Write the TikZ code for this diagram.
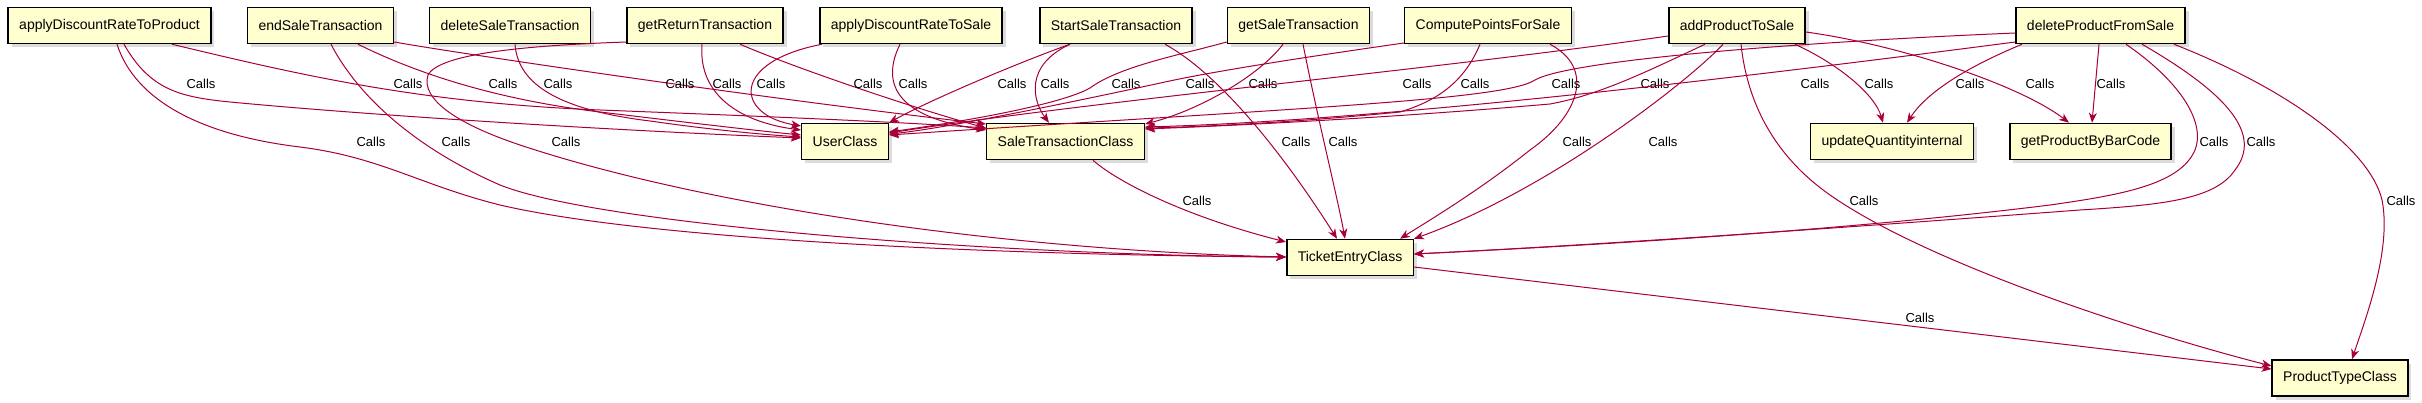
\documentclass[tikz,border=0pt]{standalone}
\usepackage{fontspec}
\setmainfont{Liberation Sans}
\usetikzlibrary{arrows.meta,shadows}
\definecolor{umlfill}{RGB}{254,254,206}
\definecolor{umlred}{RGB}{168,0,54}

\begin{document}
\begin{tikzpicture}[x=1pt, y=-1pt,
    cls/.style={rectangle, draw=black, line width=1.5pt, fill=umlfill, minimum height=36pt, inner xsep=11pt, inner ysep=2pt, font=\fontsize{14}{16}\selectfont, drop shadow={shadow xshift=3.5pt, shadow yshift=-3.5pt, fill=black!45, opacity=0.3}},
    calls/.style={draw=umlred, line width=1pt, -{Stealth[length=10pt, width=8pt, inset=3pt]}},
    lbl/.style={font=\fontsize{13}{15}\selectfont, inner sep=0pt}]
    \path[use as bounding box, fill=white] (0,0) rectangle (2422,403);

    %Top row
    \node at (109.5,25.5) [cls] (adrp) {applyDiscountRateToProduct};
    \node at (320.5,25.5) [cls] (est) {endSaleTransaction};
    \node at (510,25.5) [cls] (dst) {deleteSaleTransaction};
    \node at (705,25.5) [cls] (grt) {getReturnTransaction};
    \node at (911,25.5) [cls] (adrs) {applyDiscountRateToSale};
    \node at (1116,25.5) [cls] (sst) {StartSaleTransaction};
    \node at (1298.5,25.5) [cls] (gst) {getSaleTransaction};
    \node at (1488,25.5) [cls] (cps) {ComputePointsForSale};
    \node at (1737,25.5) [cls] (aps) {addProductToSale};
    \node at (2100.5,25.5) [cls] (dps) {deleteProductFromSale};

    %Classes
    \node at (845,141.5) [cls] (usr) {UserClass};
    \node at (1065.5,141.5) [cls] (stc) {SaleTransactionClass};
    \node at (1892,141.5) [cls] (uqi) {updateQuantityinternal};
    \node at (2090.5,141.5) [cls] (gpb) {getProductByBarCode};
    \node at (1350,257.5) [cls] (tec) {TicketEntryClass};
    \node at (2340,378) [cls] (ptc) {ProductTypeClass};

    %applyDiscountRateToProduct
    \draw[calls] (124,0 |- adrp.south) .. controls (150,90) and (180,97) .. (230,102) .. controls (400,118) and (650,132) .. (usr.west |- 0,138) node[lbl, at={(201,84)}] {Calls};
    \draw[calls] (172,0 |- adrp.south) .. controls (300,75) and (420,103) .. (600,110) .. controls (780,117) and (900,122) .. (stc.west |- 0,128) node[lbl, at={(408,84)}] {Calls};
    \draw[calls] (117,0 |- adrp.south) .. controls (135,100) and (200,135) .. (300,147) .. controls (380,157) and (420,185) .. (500,205) .. controls (650,240) and (1000,255) .. (tec.west |- 0,257) node[lbl, at={(371,142)}] {Calls};

    %endSaleTransaction
    \draw[calls] (358,0 |- est.south) .. controls (420,75) and (500,100) .. (600,112) .. controls (700,124) and (760,131) .. (usr.west |- 0,135) node[lbl, at={(503,84)}] {Calls};
    \draw[calls] (est.east |- 0,42) .. controls (450,52) and (750,97) .. (stc.west |- 0,124) node[lbl, at={(680,84)}] {Calls};
    \draw[calls] (331,0 |- est.south) .. controls (360,100) and (420,150) .. (500,185) .. controls (600,225) and (1000,255) .. (tec.west |- 0,257) node[lbl, at={(456,142)}] {Calls};

    %deleteSaleTransaction
    \draw[calls] (515,0 |- dst.south) .. controls (518,85) and (560,110) .. (650,121) .. controls (720,131) and (770,135) .. (usr.west |- 0,137) node[lbl, at={(558,84)}] {Calls};

    %getReturnTransaction
    \draw[calls] (grt.west |- 0,42) .. controls (540,45) and (440,52) .. (428,75) .. controls (420,100) and (460,125) .. (520,145) .. controls (700,205) and (1000,250) .. (tec.west |- 0,257) node[lbl, at={(566,142)}] {Calls};
    \draw[calls] (702,0 |- grt.south) .. controls (698,95) and (740,122) .. (usr.west |- 0,130) node[lbl, at={(727,84)}] {Calls};
    \draw[calls] (740,0 |- grt.south) .. controls (800,70) and (920,110) .. (stc.west |- 0,128) node[lbl, at={(868,84)}] {Calls};

    %applyDiscountRateToSale
    \draw[calls] (822,0 |- adrs.south) .. controls (730,62) and (735,115) .. (usr.west |- 0,126) node[lbl, at={(771,84)}] {Calls};
    \draw[calls] (900,0 |- adrs.south) .. controls (875,95) and (915,120) .. (stc.west |- 0,130) node[lbl, at={(913,84)}] {Calls};

    %StartSaleTransaction
    \draw[calls] (1070,0 |- sst.south) .. controls (1020,62) and (930,100) .. (usr.north east) node[lbl, at={(1012,84)}] {Calls};
    \draw[calls] (1070,0 |- sst.south) .. controls (1025,65) and (1032,100) .. (1049,0 |- stc.north) node[lbl, at={(1055,84)}] {Calls};
    \draw[calls] (1165,0 |- sst.south) .. controls (1230,80) and (1300,180) .. (1337,0 |- tec.north) node[lbl, at={(1296,142)}] {Calls};

    %getSaleTransaction
    \draw[calls] (gst.west |- 0,42) .. controls (1180,55) and (1120,66) .. (1090,88) .. controls (1060,105) and (960,122) .. (usr.east |- 0,132) node[lbl, at={(1126,84)}] {Calls};
    \draw[calls] (1283,0 |- gst.south) .. controls (1260,75) and (1200,110) .. (stc.east |- 0,124) node[lbl, at={(1263,84)}] {Calls};
    \draw[calls] (1303,0 |- gst.south) .. controls (1318,120) and (1338,200) .. (1345,0 |- tec.north) node[lbl, at={(1343,142)}] {Calls};

    %ComputePointsForSale
    \draw[calls] (cps.west |- 0,43) .. controls (1320,55) and (1220,70) .. (1165,82) .. controls (1110,94) and (950,128) .. (usr.east |- 0,134) node[lbl, at={(1200,84)}] {Calls};
    \draw[calls] (1480,0 |- cps.south) .. controls (1465,80) and (1440,100) .. (1400,112) .. controls (1300,122) and (1200,127) .. (stc.east |- 0,128) node[lbl, at={(1475,84)}] {Calls};
    \draw[calls] (1550,0 |- cps.south) .. controls (1595,68) and (1580,115) .. (1530,150) .. controls (1480,190) and (1430,220) .. (1400,0 |- tec.north) node[lbl, at={(1577,142)}] {Calls};

    %addProductToSale
    \draw[calls] (aps.west |- 0,36) .. controls (1450,68) and (1100,100) .. (usr.east |- 0,133) node[lbl, at={(1417,84)}] {Calls};
    \draw[calls] (1705,0 |- aps.south) .. controls (1650,70) and (1600,95) .. (1550,104) .. controls (1400,117) and (1250,125) .. (stc.east |- 0,129) node[lbl, at={(1655,84)}] {Calls};
    \draw[calls] (1723,0 |- aps.south) .. controls (1690,80) and (1550,190) .. (tec.north east) node[lbl, at={(1663,142)}] {Calls};
    \draw[calls] (1741,0 |- aps.south) .. controls (1748,110) and (1780,160) .. (1830,195) .. controls (1930,265) and (2150,335) .. (ptc.west |- 0,366) node[lbl, at={(1864,201)}] {Calls};
    \draw[calls] (1795,0 |- aps.south) .. controls (1840,65) and (1875,95) .. (1883,0 |- uqi.north) node[lbl, at={(1879,84)}] {Calls};
    \draw[calls] (aps.east |- 0,32) .. controls (1900,45) and (2020,85) .. (2069,0 |- gpb.north) node[lbl, at={(2040,84)}] {Calls};

    %deleteProductFromSale
    \draw[calls] (dps.west |- 0,33) .. controls (1800,42) and (1570,60) .. (1535,80) .. controls (1505,100) and (1300,108) .. (usr.east |- 0,135) node[lbl, at={(1566,84)}] {Calls};
    \draw[calls] (dps.west |- 0,42) .. controls (1800,70) and (1400,120) .. (stc.east |- 0,127) node[lbl, at={(1815,84)}] {Calls};
    \draw[calls] (2022,0 |- dps.south) .. controls (1960,70) and (1925,95) .. (1907,0 |- uqi.north) node[lbl, at={(1970,84)}] {Calls};
    \draw[calls] (2099,0 |- dps.south) -- (2092,0 |- gpb.north) node[lbl, at={(2111,84)}] {Calls};
    \draw[calls] (2126,0 |- dps.south) .. controls (2185,85) and (2205,125) .. (2195,150) .. controls (2180,185) and (2120,195) .. (2050,205) .. controls (1850,230) and (1600,245) .. (tec.east |- 0,254) node[lbl, at={(2214,142)}] {Calls};
    \draw[calls] (2142,0 |- dps.south) .. controls (2230,95) and (2262,135) .. (2235,170) .. controls (2215,200) and (2160,205) .. (2080,210) .. controls (1880,225) and (1600,245) .. (tec.east |- 0,254) node[lbl, at={(2261,142)}] {Calls};
    \draw[calls] (2174,0 |- dps.south) .. controls (2290,90) and (2370,150) .. (2382,200) .. controls (2392,250) and (2365,320) .. (2352,0 |- ptc.north) node[lbl, at={(2401,201)}] {Calls};

    %SaleTransactionClass
    \draw[calls] (1093,0 |- stc.south) .. controls (1115,180) and (1180,215) .. (tec.west |- 0,242) node[lbl, at={(1197,201)}] {Calls};

    %TicketEntryClass
    \draw[calls] (tec.east |- 0,267) -- (ptc.west |- 0,369) node[lbl, at={(1920,318)}] {Calls};
\end{tikzpicture}
\end{document}
